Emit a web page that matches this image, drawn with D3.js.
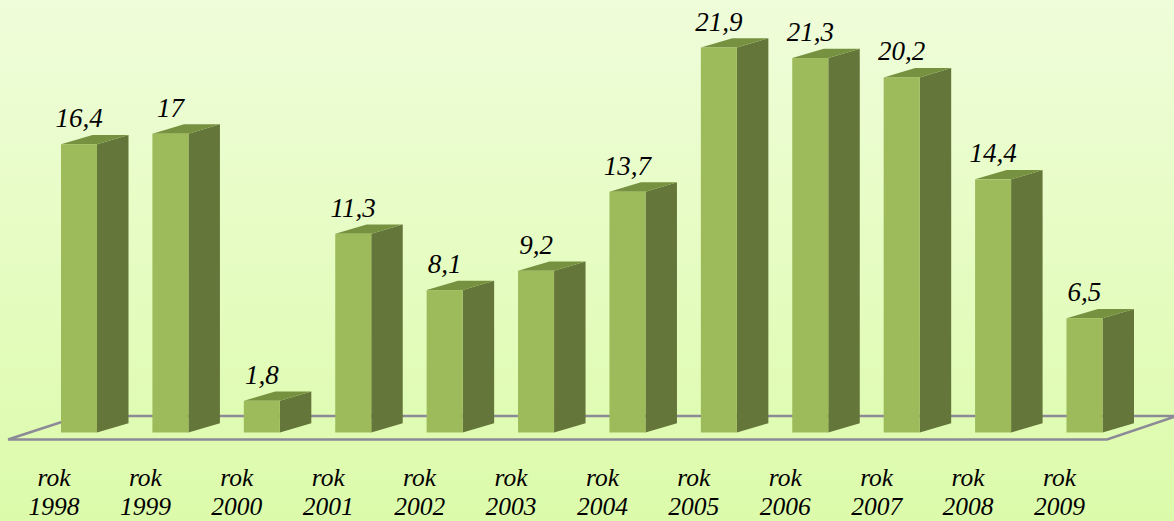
<!DOCTYPE html>
<html>
<head>
<meta charset="utf-8">
<script src="https://cdn.jsdelivr.net/npm/d3@7"></script>
<style>
html, body { margin: 0; padding: 0; overflow: hidden; }
text { font-family: "Liberation Serif", serif; font-style: italic; fill: #000; }
</style>
</head>
<body>
<div id="chart"></div>
<script>
const years = ["1998", "1999", "2000", "2001", "2002", "2003", "2004", "2005", "2006", "2007", "2008", "2009"];
const values = [16.4, 17, 1.8, 11.3, 8.1, 9.2, 13.7, 21.9, 21.3, 20.2, 14.4, 6.5];
const valueLabels = ["16,4", "17", "1,8", "11,3", "8,1", "9,2", "13,7", "21,9", "21,3", "20,2", "14,4", "6,5"];

const width = 1174, height = 521;
const depthX = 31.5, depthY = 9.3;
const baseY = 432.5;

const svg = d3.select("#chart").append("svg")
    .attr("width", width)
    .attr("height", height)
    .style("display", "block");

const gradient = svg.append("defs").append("linearGradient")
    .attr("id", "bg")
    .attr("x1", "0%").attr("x2", "0%")
    .attr("y1", "0%").attr("y2", "100%");
gradient.append("stop").attr("offset", "0%").attr("stop-color", "#effdda");
gradient.append("stop").attr("offset", "100%").attr("stop-color", "#dcfbaa");

svg.append("rect")
    .attr("width", width)
    .attr("height", height)
    .attr("fill", "url(#bg)");

const x = d3.scaleBand()
    .domain(years)
    .range([61, 1102.5])
    .paddingInner(0.606)
    .paddingOuter(0);

const y = d3.scaleLinear()
    .domain([0, 21.9])
    .range([baseY, 47.5]);

// floor outline
const floor = d3.path();
floor.moveTo(8, 439.5);
floor.lineTo(1107, 439.5);
floor.lineTo(1174, 417);
floor.moveTo(8, 439.5);
floor.lineTo(80, 416);
floor.lineTo(1174, 416);
svg.append("path")
    .attr("d", floor.toString())
    .attr("fill", "none")
    .attr("stroke", "#8d8a98")
    .attr("stroke-width", 2.6);

const bars = svg.append("g").selectAll("g")
    .data(values)
    .join("g");

// side, top, then front face of each bar
bars.append("path")
    .attr("fill", "#64763a")
    .attr("d", (d, i) => {
        const r = x(years[i]) + x.bandwidth();
        return `M${r},${y(d)}L${r + depthX},${y(d) - depthY}L${r + depthX},${baseY - depthY}L${r},${baseY}Z`;
    });

bars.append("path")
    .attr("fill", "#76913f")
    .attr("d", (d, i) => {
        const l = x(years[i]), r = l + x.bandwidth();
        return `M${l},${y(d)}L${l + depthX},${y(d) - depthY}L${r + depthX},${y(d) - depthY}L${r},${y(d)}Z`;
    });

bars.append("rect")
    .attr("fill", "#9dbb5a")
    .attr("x", (d, i) => x(years[i]))
    .attr("y", d => y(d))
    .attr("width", x.bandwidth())
    .attr("height", d => baseY - y(d));

svg.append("g").selectAll("text")
    .data(values)
    .join("text")
    .attr("x", (d, i) => x(years[i]) + x.bandwidth() / 2)
    .attr("y", d => y(d) - 17)
    .attr("text-anchor", "middle")
    .style("font-size", "27px")
    .text((d, i) => valueLabels[i]);

// category labels sit left of the bars, two lines each
const labels = svg.append("g").selectAll("text")
    .data(years)
    .join("text")
    .attr("text-anchor", "middle")
    .style("font-size", "25.5px");

labels.append("tspan")
    .attr("x", d => x(d) + x.bandwidth() / 2 - 25)
    .attr("y", 486)
    .text("rok");

labels.append("tspan")
    .attr("x", d => x(d) + x.bandwidth() / 2 - 25)
    .attr("y", 515)
    .text(d => d);
</script>
</body>
</html>
